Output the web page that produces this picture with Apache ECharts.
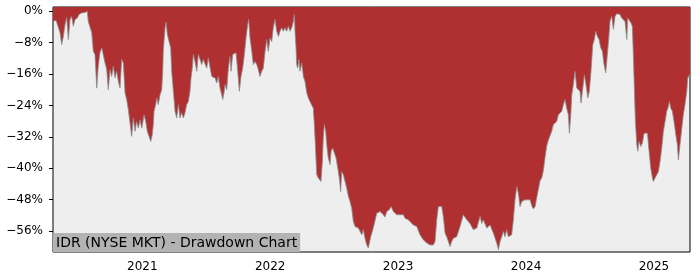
<!DOCTYPE html>
<html><head><meta charset="utf-8">
<script src="https://cdn.jsdelivr.net/npm/echarts@6/dist/echarts.min.js"></script>
<style>html,body{margin:0;padding:0;background:#fff}#c{width:700px;height:280px}</style>
</head><body><div id="c"></div>
<script>
// decimal years
const dates = [2020.302,2020.326,2020.341,2020.357,2020.370,2020.383,2020.396,2020.409,2020.422,2020.435,2020.448,2020.461,2020.474,2020.492,2020.505,2020.526,2020.539,2020.552,2020.570,2020.578,2020.591,2020.605,2020.617,2020.630,2020.644,2020.656,2020.669,2020.683,2020.695,2020.709,2020.722,2020.734,2020.748,2020.761,2020.773,2020.787,2020.800,2020.813,2020.826,2020.839,2020.852,2020.865,2020.878,2020.891,2020.904,2020.917,2020.930,2020.943,2020.956,2020.969,2020.982,2020.996,2021.014,2021.027,2021.039,2021.053,2021.066,2021.078,2021.086,2021.092,2021.105,2021.113,2021.125,2021.139,2021.152,2021.160,2021.164,2021.178,2021.186,2021.196,2021.209,2021.222,2021.230,2021.243,2021.256,2021.269,2021.282,2021.295,2021.308,2021.321,2021.334,2021.347,2021.360,2021.373,2021.381,2021.391,2021.399,2021.412,2021.426,2021.438,2021.451,2021.465,2021.477,2021.490,2021.504,2021.516,2021.530,2021.543,2021.555,2021.569,2021.582,2021.594,2021.608,2021.621,2021.629,2021.639,2021.647,2021.660,2021.673,2021.686,2021.694,2021.707,2021.720,2021.733,2021.746,2021.759,2021.772,2021.785,2021.798,2021.811,2021.824,2021.832,2021.842,2021.856,2021.868,2021.881,2021.895,2021.907,2021.920,2021.934,2021.946,2021.960,2021.973,2021.985,2021.999,2022.012,2022.024,2022.038,2022.051,2022.064,2022.077,2022.090,2022.103,2022.116,2022.129,2022.142,2022.155,2022.168,2022.181,2022.189,2022.194,2022.202,2022.207,2022.215,2022.225,2022.233,2022.247,2022.259,2022.272,2022.286,2022.298,2022.311,2022.325,2022.337,2022.345,2022.353,2022.364,2022.376,2022.390,2022.397,2022.408,2022.415,2022.423,2022.434,2022.442,2022.454,2022.468,2022.476,2022.489,2022.501,2022.515,2022.528,2022.540,2022.551,2022.559,2022.572,2022.585,2022.598,2022.611,2022.624,2022.637,2022.650,2022.663,2022.677,2022.689,2022.702,2022.716,2022.728,2022.741,2022.755,2022.767,2022.773,2022.786,2022.806,2022.833,2022.859,2022.885,2022.898,2022.911,2022.931,2022.945,2022.963,2022.989,2023.015,2023.041,2023.054,2023.080,2023.093,2023.119,2023.146,2023.171,2023.197,2023.224,2023.250,2023.275,2023.289,2023.302,2023.315,2023.328,2023.341,2023.354,2023.367,2023.380,2023.406,2023.419,2023.432,2023.458,2023.484,2023.510,2023.537,2023.562,2023.588,2023.615,2023.641,2023.654,2023.666,2023.693,2023.719,2023.745,2023.771,2023.784,2023.797,2023.810,2023.823,2023.836,2023.849,2023.862,2023.875,2023.888,2023.901,2023.914,2023.928,2023.940,2023.953,2023.967,2023.979,2023.992,2024.006,2024.032,2024.045,2024.057,2024.071,2024.084,2024.096,2024.110,2024.123,2024.136,2024.149,2024.162,2024.175,2024.188,2024.201,2024.214,2024.227,2024.240,2024.253,2024.266,2024.279,2024.292,2024.305,2024.318,2024.331,2024.339,2024.350,2024.358,2024.370,2024.383,2024.397,2024.409,2024.422,2024.430,2024.444,2024.456,2024.469,2024.483,2024.495,2024.508,2024.522,2024.534,2024.545,2024.558,2024.571,2024.584,2024.597,2024.610,2024.623,2024.636,2024.647,2024.657,2024.670,2024.683,2024.696,2024.709,2024.735,2024.748,2024.761,2024.774,2024.788,2024.795,2024.808,2024.821,2024.831,2024.839,2024.847,2024.855,2024.866,2024.874,2024.884,2024.897,2024.910,2024.923,2024.936,2024.949,2024.962,2024.975,2024.988,2024.996,2025.009,2025.022,2025.035,2025.048,2025.061,2025.074,2025.087,2025.100,2025.113,2025.121,2025.132,2025.144,2025.157,2025.171,2025.183,2025.191,2025.204,2025.218,2025.230,2025.243,2025.257,2025.264,2025.275,2025.282];
// drawdown in percent
const drawdown = [-2.6,-2.3,-2.1,-5.5,-8.5,-6.4,-3.4,-1.6,-7.2,-2.1,-1.3,-3.8,-2.1,-1.7,-0.8,-0.4,-0.8,-0.3,0,-2.6,-3.0,-5.5,-10.2,-11.0,-19.6,-14.0,-10.6,-9.3,-9.8,-13.2,-14.9,-20.0,-14.9,-16.6,-14.0,-17.0,-15.3,-17.9,-19.6,-12.3,-13.2,-20.8,-22.5,-25.1,-28.5,-31.9,-27.2,-30.6,-28.1,-29.8,-27.7,-29.8,-26.4,-28.1,-30.6,-31.9,-33.2,-31.5,-28.9,-25.5,-23.8,-22.1,-23.8,-21.3,-20.0,-15.3,-10.2,-4.2,-2.7,-5.9,-7.7,-9.3,-15.3,-20.4,-25.5,-27.2,-23.8,-27.2,-25.9,-27.2,-25.9,-23.8,-23.0,-20.4,-17.0,-14.5,-11.0,-12.8,-15.3,-11.0,-10.6,-13.6,-12.3,-12.8,-14.5,-11.9,-11.5,-16.6,-16.2,-17.0,-18.3,-16.6,-19.6,-21.3,-22.5,-20.8,-18.7,-20.0,-14.5,-11.5,-15.3,-11.0,-10.6,-10.6,-15.3,-20.4,-16.6,-14.5,-11.0,-6.8,-3.4,-2.1,-6.8,-10.2,-13.6,-12.8,-13.6,-14.9,-16.6,-15.3,-14.5,-10.2,-7.2,-10.2,-6.8,-7.7,-4.2,-2.1,-5.1,-6.4,-5.1,-4.2,-5.1,-4.2,-5.1,-3.8,-5.1,-4.2,-2.6,-0.8,-5.1,-9.3,-13.6,-14.5,-12.3,-15.3,-13.2,-16.6,-17.9,-20.8,-22.1,-23.0,-23.4,-24.7,-28.9,-34.0,-41.7,-42.5,-42.1,-43.4,-38.3,-32.3,-28.9,-30.6,-34.0,-37.4,-39.1,-35.7,-34.9,-34.5,-37.4,-40.0,-42.5,-46.0,-40.9,-41.7,-43.4,-45.1,-47.2,-48.5,-50.2,-53.6,-54.9,-54.9,-55.3,-55.0,-57.0,-55.7,-57.9,-59.6,-60.4,-60.8,-57.5,-55.3,-51.5,-51.1,-51.9,-52.5,-51.1,-50.6,-49.8,-51.1,-51.9,-51.9,-51.9,-52.8,-53.2,-53.6,-54.5,-54.9,-57.0,-58.3,-59.1,-59.6,-59.6,-58.7,-53.2,-49.8,-50.2,-49.8,-52.5,-56.6,-57.5,-60.0,-58.7,-57.9,-57.5,-54.9,-51.9,-53.2,-54.1,-55.7,-55.3,-52.3,-54.1,-53.2,-55.3,-54.5,-56.6,-59.1,-60.8,-58.7,-57.5,-56.2,-57.5,-55.7,-57.5,-57.9,-57.0,-53.2,-48.1,-44.7,-46.4,-49.8,-48.5,-48.5,-48.1,-48.5,-48.1,-49.6,-50.4,-49.8,-47.5,-45.5,-43.2,-42.5,-40.6,-37.2,-34.3,-32.8,-32.3,-30.6,-28.9,-28.5,-28.1,-26.4,-25.9,-25.5,-23.8,-22.5,-24.7,-26.4,-31.1,-26.4,-21.3,-18.7,-15.3,-19.6,-20.0,-20.4,-23.4,-19.6,-16.2,-18.7,-22.1,-20.4,-15.3,-8.5,-7.2,-5.1,-6.4,-7.2,-9.3,-10.2,-13.6,-15.7,-11.0,-6.8,-2.4,-1.3,-4.6,-1.3,-0.6,-0.8,-1.7,-1.3,-2.6,-7.2,-1.7,-2.1,-3.0,-3.8,-11.0,-19.6,-28.1,-34.0,-35.7,-33.2,-34.5,-33.6,-31.1,-31.5,-31.1,-35.7,-40.0,-42.5,-43.4,-42.5,-42.1,-40.9,-38.3,-34.9,-30.6,-28.1,-25.5,-24.3,-23.0,-24.7,-25.5,-28.1,-31.5,-34.0,-37.9,-34.0,-29.8,-26.4,-23.8,-20.4,-17.0,-16.6,-16.0];
const yTicks = [0,-8,-16,-24,-32,-40,-48,-56];
const xTicks = [2021,2022,2023,2024,2025];
const titleText = 'IDR (NYSE MKT) - Drawdown Chart';

const chart = echarts.init(document.getElementById('c'), null, {renderer:'canvas'});
const FONT = 'DejaVu Sans';
chart.setOption({
  animation:false,
  backgroundColor:'#ffffff',
  title:{text:titleText,left:53,bottom:28,padding:[3,3,2,3],backgroundColor:'#b3b3b3',
    textStyle:{fontFamily:FONT,fontSize:14,fontWeight:'normal',color:'#000'}},
  grid:{left:53,right:10,top:7,bottom:28,show:true,backgroundColor:'#eeeeee',borderColor:'#000',borderWidth:1},
  xAxis:{type:'value',min:2020.302,max:2025.282,
    axisLine:{show:false},splitLine:{show:false},
    axisTick:{show:true,length:4,customValues:xTicks,lineStyle:{color:'#000'}},
    axisLabel:{customValues:xTicks,margin:9,fontFamily:FONT,fontSize:12,color:'#000',formatter:v=>String(Math.round(v))}},
  yAxis:{type:'value',min:-61.4,max:1.1,
    axisLine:{show:false},splitLine:{show:false},
    axisTick:{show:true,length:4,customValues:yTicks,lineStyle:{color:'#000'}},
    axisLabel:{customValues:yTicks,margin:10,fontFamily:FONT,fontSize:12,color:'#000',
      formatter:v=>(v<0?'\u2212'+Math.abs(v):String(v))+'%'}},
  series:[{type:'line',data:dates.map((d,i)=>[d,drawdown[i]]),symbol:'none',
    lineStyle:{color:'#8c8c8c',width:0.8},
    areaStyle:{color:'#b03032',opacity:1,origin:'end'},
    z:2}]
});
</script></body></html>
